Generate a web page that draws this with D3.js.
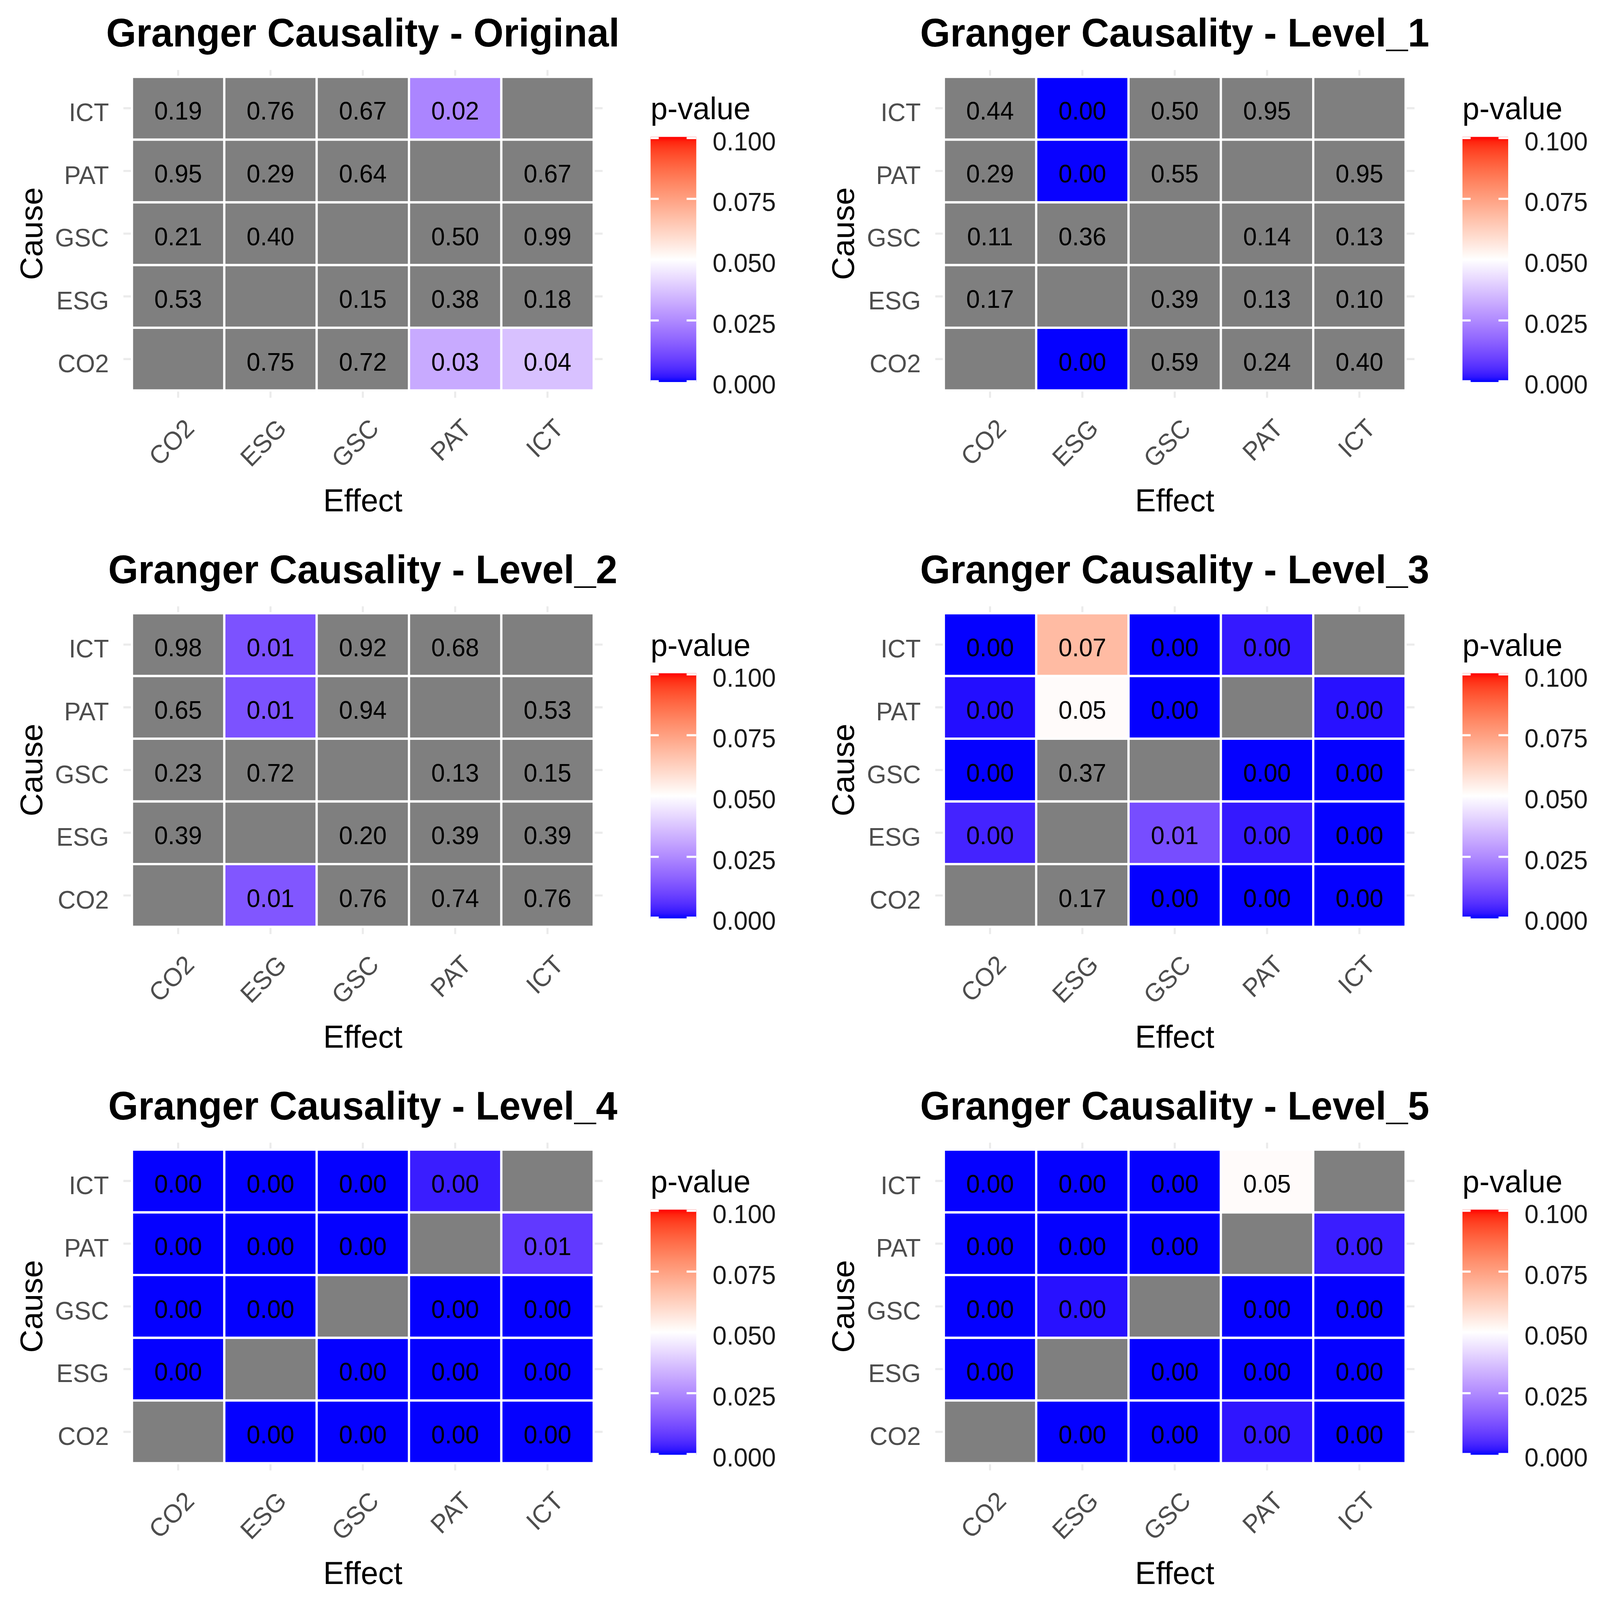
<!DOCTYPE html>
<html>
<head>
<meta charset="utf-8">
<script src="https://cdn.jsdelivr.net/npm/d3@7/dist/d3.min.js"></script>
<style>
  html, body { margin: 0; padding: 0; background: #ffffff; overflow: hidden; width: 100%; height: 100%; }
  svg { display: block; width: 100vw; height: 100vh; }
  text { font-family: "Liberation Sans", Arial, sans-serif; }
</style>
</head>
<body>
<script>
// ---------------- DATA ----------------
const variables = ["CO2", "ESG", "GSC", "PAT", "ICT"];   // effects (x) and causes (y, bottom->top)
const panelTitles = ["Original", "Level_1", "Level_2", "Level_3", "Level_4", "Level_5"];
const legendTicks = [0, 0.025, 0.05, 0.075, 0.1];

// rows = cause (CO2, ESG, GSC, PAT, ICT), columns = effect (CO2, ESG, GSC, PAT, ICT); null = diagonal
const pOriginal = [
  [null, 0.75, 0.72, 0.032, 0.037],
  [0.53, null, 0.15, 0.38, 0.18],
  [0.21, 0.40, null, 0.50, 0.99],
  [0.95, 0.29, 0.64, null, 0.67],
  [0.19, 0.76, 0.67, 0.024, null]
];
const pLevel1 = [
  [null, 0.0001, 0.59, 0.24, 0.40],
  [0.17, null, 0.39, 0.13, 0.102],
  [0.11, 0.36, null, 0.14, 0.13],
  [0.29, 0.0002, 0.55, null, 0.95],
  [0.44, 0.0001, 0.50, 0.95, null]
];
const pLevel2 = [
  [null, 0.014, 0.76, 0.74, 0.76],
  [0.39, null, 0.20, 0.39, 0.39],
  [0.23, 0.72, null, 0.13, 0.15],
  [0.65, 0.013, 0.94, null, 0.53],
  [0.98, 0.013, 0.92, 0.68, null]
];
const pLevel3 = [
  [null, 0.17, 0.0001, 0.0001, 0.0001],
  [0.004, null, 0.012, 0.0025, 0.0001],
  [0.0001, 0.37, null, 0.0001, 0.0001],
  [0.0012, 0.051, 0.0001, null, 0.0015],
  [0.0001, 0.068, 0.0001, 0.0025, null]
];
const pLevel4 = [
  [null, 0.0001, 0.0001, 0.0001, 0.0001],
  [0.0001, null, 0.0001, 0.0001, 0.0001],
  [0.0001, 0.0001, null, 0.0001, 0.0001],
  [0.0001, 0.0001, 0.0001, null, 0.008],
  [0.0001, 0.0001, 0.0001, 0.003, null]
];
const pLevel5 = [
  [null, 0.0001, 0.0001, 0.002, 0.0001],
  [0.0001, null, 0.0001, 0.0001, 0.0001],
  [0.0001, 0.0015, null, 0.0001, 0.0001],
  [0.0001, 0.0001, 0.0001, null, 0.003],
  [0.0001, 0.0001, 0.0001, 0.051, null]
];
const panelData = [pOriginal, pLevel1, pLevel2, pLevel3, pLevel4, pLevel5];

// ---------------- LAYOUT ----------------
const W = 4304, H = 4184;
const colOffset = [0, 2184];
const rowOffset = [0, 1402.6, 2805.2];

const svg = d3.select("body").append("svg")
  .attr("viewBox", `0 0 ${W} ${H}`)
  .attr("preserveAspectRatio", "none");
svg.append("rect").attr("width", W).attr("height", H).attr("fill", "#ffffff");

const fill = d3.scaleLinear()
  .domain([0, 0.05, 0.1])
  .range(["#0000FF", "#FFFFFF", "#FF0000"])
  .interpolate(d3.interpolateLab);
const NA_FILL = "#7F7F7F";
const fmt = d3.format(".2f");

// colourbar gradient
const defs = svg.append("defs");
const grad = defs.append("linearGradient").attr("id", "pgrad")
  .attr("x1", 0).attr("y1", 1).attr("x2", 0).attr("y2", 0);
d3.range(0, 1.0001, 0.02).forEach(t => {
  grad.append("stop").attr("offset", t).attr("stop-color", fill(t * 0.1));
});

const x = d3.scaleBand().domain(variables).range([355, 1597]).padding(0);
const y = d3.scaleBand().domain(variables.slice().reverse()).range([201, 1021]).padding(0);
const legendY = d3.scaleLinear().domain([0, 0.1]).range([997, 361]);

panelData.forEach((mat, pi) => {
  const g = svg.append("g")
    .attr("transform", `translate(${colOffset[pi % 2]},${rowOffset[Math.floor(pi / 2)]})`);

  // grid lines (theme_minimal)
  const grid = g.append("g");
  variables.forEach(v => {
    grid.append("line")
      .attr("x1", x(v) + x.bandwidth() / 2).attr("x2", x(v) + x.bandwidth() / 2)
      .attr("y1", 183).attr("y2", 1040)
      .attr("stroke", "#EBEBEB").attr("stroke-width", 5.5);
    grid.append("line")
      .attr("y1", y(v) + y.bandwidth() / 2).attr("y2", y(v) + y.bandwidth() / 2)
      .attr("x1", 332).attr("x2", 1621)
      .attr("stroke", "#EBEBEB").attr("stroke-width", 5.5);
  });

  // cells
  const cells = [];
  mat.forEach((row, ri) => row.forEach((val, ci) => {
    cells.push({ cause: variables[ri], effect: variables[ci], p: val });
  }));

  g.append("g").selectAll("rect").data(cells).join("rect")
    .attr("x", d => x(d.effect))
    .attr("y", d => y(d.cause))
    .attr("width", x.bandwidth())
    .attr("height", y.bandwidth())
    .attr("fill", d => (d.p === null || d.p > 0.1) ? NA_FILL : fill(d.p))
    .attr("stroke", "#FFFFFF").attr("stroke-width", 6);

  g.append("g").selectAll("text").data(cells.filter(d => d.p !== null)).join("text")
    .attr("x", d => x(d.effect) + x.bandwidth() / 2)
    .attr("y", d => y(d.cause) + y.bandwidth() / 2 + 30)
    .attr("text-anchor", "middle")
    .attr("font-size", 66)
    .attr("fill", "#000000")
    .text(d => fmt(d.p));

  // title
  g.append("text")
    .attr("x", 976).attr("y", 122)
    .attr("text-anchor", "middle")
    .attr("font-size", 104).attr("font-weight", "bold")
    .attr("fill", "#000000")
    .text("Granger Causality - " + panelTitles[pi]);

  // y axis labels
  g.append("g").selectAll("text").data(variables).join("text")
    .attr("x", 293)
    .attr("y", d => y(d) + y.bandwidth() / 2 + 34)
    .attr("text-anchor", "end")
    .attr("font-size", 67)
    .attr("fill", "#4D4D4D")
    .text(d => d);

  // x axis labels (rotated 45)
  g.append("g").selectAll("text").data(variables).join("text")
    .attr("transform", d => `translate(${x(d) + x.bandwidth() / 2 + 47},1124) rotate(-45)`)
    .attr("text-anchor", "end")
    .attr("font-size", 67)
    .attr("fill", "#4D4D4D")
    .text(d => d);

  // axis titles
  g.append("text")
    .attr("x", 976).attr("y", 1337)
    .attr("text-anchor", "middle")
    .attr("font-size", 84).attr("fill", "#000000")
    .text("Effect");
  g.append("text")
    .attr("transform", "translate(113,611) rotate(-90)")
    .attr("text-anchor", "middle")
    .attr("font-size", 84).attr("fill", "#000000")
    .text("Cause");

  // legend
  const lg = g.append("g");
  lg.append("text")
    .attr("x", 1750).attr("y", 312)
    .attr("font-size", 82).attr("fill", "#000000")
    .text("p-value");
  lg.append("rect")
    .attr("x", 1750).attr("y", legendY(0.1) - 3)
    .attr("width", 123).attr("height", legendY(0) - legendY(0.1) + 5)
    .attr("fill", "url(#pgrad)");
  legendTicks.forEach(t => {
    lg.append("line")
      .attr("x1", 1750).attr("x2", 1772)
      .attr("y1", legendY(t)).attr("y2", legendY(t))
      .attr("stroke", "#FFFFFF").attr("stroke-width", 5.5);
    lg.append("line")
      .attr("x1", 1847).attr("x2", 1873)
      .attr("y1", legendY(t)).attr("y2", legendY(t))
      .attr("stroke", "#FFFFFF").attr("stroke-width", 5.5);
  });
  lg.append("g").selectAll("text").data(legendTicks).join("text")
    .attr("x", 1917)
    .attr("y", d => legendY(d) + 32)
    .attr("font-size", 68)
    .attr("fill", "#1A1A1A")
    .text(d => d3.format(".3f")(d));
});
</script>
</body>
</html>
